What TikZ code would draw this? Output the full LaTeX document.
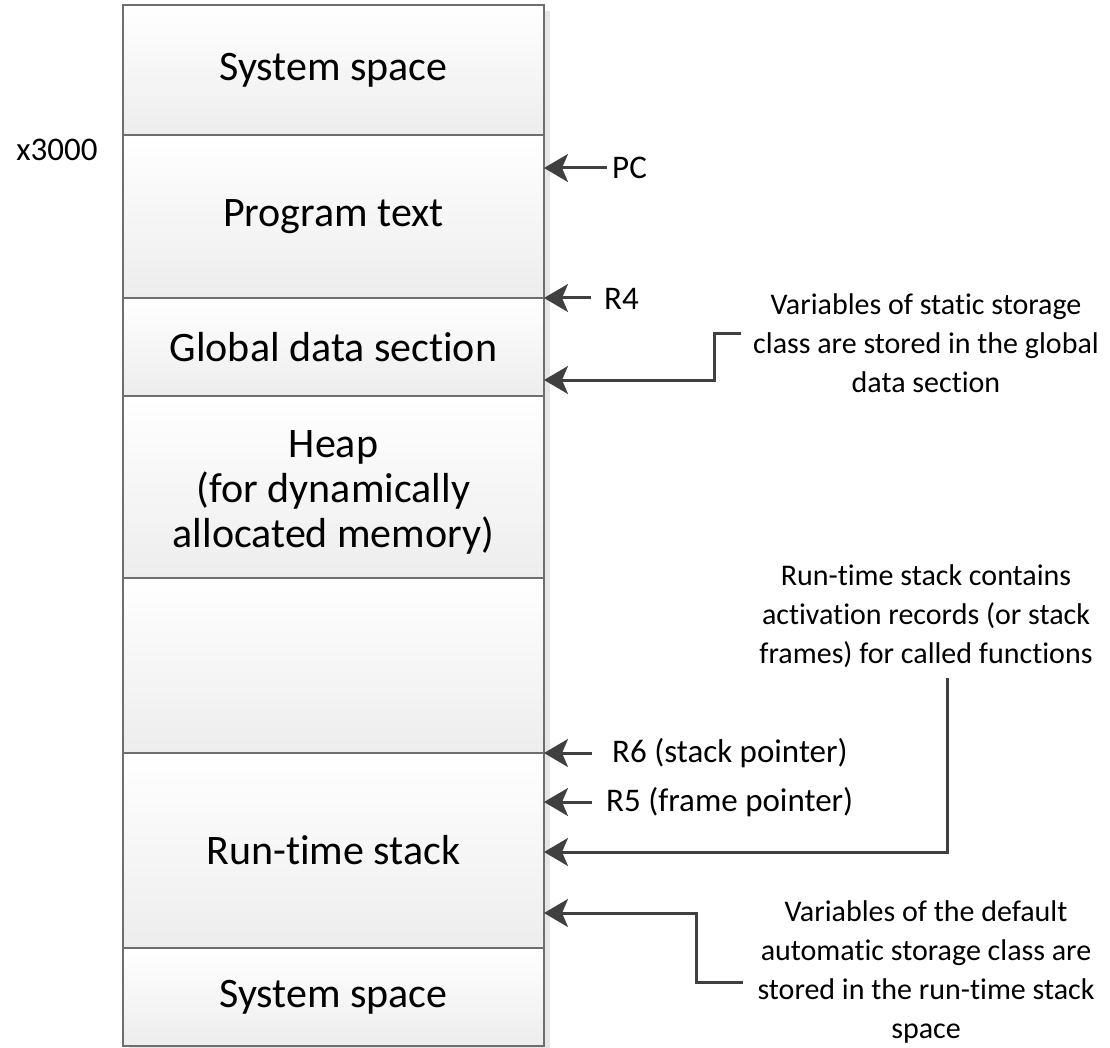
\documentclass[tikz,border=0pt]{standalone}
\usepackage{fontspec}
\setmainfont[Ligatures=NoCommon]{Carlito}
\usetikzlibrary{arrows.meta}
\definecolor{edge}{HTML}{6E6E6E}
\definecolor{ink}{HTML}{404040}
\definecolor{shadowgray}{HTML}{E6E6E6}
\definecolor{fillbot}{HTML}{EDEDED}
\begin{document}
\begin{tikzpicture}[x=1pt,y=-1pt,
  mem/.style={draw=edge, line width=1.3pt, top color=white, bottom color=fillbot,
    minimum width=421pt, inner sep=0pt, outer sep=0pt, align=center,
    font=\fontsize{42}{45}\selectfont},
  ptr/.style={draw=ink, line width=3pt,
    -{Stealth[length=24pt 0 0, width=28pt 0 0, inset=6pt 0 0]}},
  reg/.style={anchor=west, inner sep=0pt, font=\fontsize{33}{40}\selectfont},
  note/.style={align=center, inner sep=0pt, font=\fontsize{30}{39}\selectfont}]
\useasboundingbox (0,0) rectangle (1110,1048);

% drop shadow behind the memory column
\fill[shadowgray] (129,11) rectangle (550,1052);

% memory map, top to bottom
\node[mem, minimum height=130pt] (sys1)  at (333.5,70)    {System space};
\node[mem, minimum height=163pt] (prog)  at (333.5,216.5) {Program text};
\node[mem, minimum height=98pt]  (glob)  at (333.5,347)   {Global data section};
\node[mem, minimum height=182pt] (heap)  at (333.5,487)   {};
\node[mem, minimum height=175pt] (free)  at (333.5,665.5) {};
\node[mem, minimum height=195pt] (stack) at (333.5,850.5) {Run-time stack};
\node[mem, minimum height=98pt]  (sys2)  at (333.5,997)   {System space};
\node[align=center, inner sep=0pt, font=\fontsize{42}{45}\selectfont]
  (heaptext) at (333.5,492) {Heap\\(for dynamically\\allocated memory)};

% start address
\node[font=\fontsize{33}{40}\selectfont] (addr) at (57,150) {x3000};

% register pointers
\coordinate (pcT) at (607,168);
\node[reg] (pc) at (612,168) {PC};
\draw[ptr] (pcT) -- (pcT -| prog.east);

\coordinate (r4T) at (591,298);
\node[reg] (r4) at (604,299) {R4};
\draw[ptr] (r4T) -- (r4T -| glob.east);

\coordinate (r6T) at (592,753);
\node[reg] (r6) at (612,753) {R6 (stack pointer)};
\draw[ptr] (r6T) -- (r6T -| stack.east);

\coordinate (r5T) at (592,802);
\node[reg] (r5) at (606,802) {R5 (frame pointer)};
\draw[ptr] (r5T) -- (r5T -| stack.east);

% callout: static storage
\node[note] (snote) at (926,343) {Variables of static storage\\class are stored in the global\\data section};
\coordinate (sEnd) at (741,333);
\coordinate (sBend) at (714,380);
\draw[ptr] (sEnd) -| (sBend) -- (sBend -| glob.east);

% callout: activation records
\node[note] (rnote) at (926,616) {Run-time stack contains\\activation records (or stack\\frames) for called functions};
\coordinate (rTop) at (947,678);
\coordinate (rBend) at (947,852);
\draw[ptr] (rTop) -- (rBend) -- (rBend -| stack.east);

% callout: automatic storage
\node[note] (anote) at (926,972) {Variables of the default\\automatic storage class are\\stored in the run-time stack\\space};
\coordinate (aEnd) at (743,982);
\coordinate (aBend) at (696,913);
\draw[ptr] (aEnd) -| (aBend) -- (aBend -| stack.east);
\end{tikzpicture}
\end{document}
